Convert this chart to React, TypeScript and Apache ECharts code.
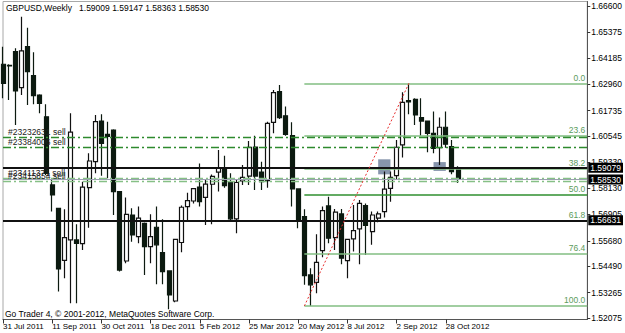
import React, { useEffect, useRef } from "react";
import * as echarts from "echarts";

const FONT = "'Liberation Sans Narrow', 'Liberation Sans', Arial, sans-serif";

// weekly OHLC (GBPUSD)
const opens = [1.6389,1.6384,1.6448,1.6280,1.6471,1.6336,1.6246,1.6145,1.5828,1.5719,1.5477,1.5572,1.5572,1.5555,1.5815,1.5936,1.6125,1.6063,1.6083,1.5797,1.5474,1.5688,1.5587,1.5649,1.5541,1.5631,1.5513,1.5428,1.5288,1.5560,1.5727,1.5753,1.5818,1.5770,1.5831,1.5887,1.5905,1.5839,1.5670,1.5846,1.5869,1.6004,1.5888,1.5848,1.6119,1.6262,1.6149,1.6057,1.5809,1.5680,1.5409,1.5375,1.5522,1.5730,1.5583,1.5693,1.5476,1.5577,1.5623,1.5732,1.5611,1.5673,1.5704,1.5812,1.5871,1.6014,1.6220,1.6226,1.6141,1.6125,1.6068,1.6001,1.6096,1.6006,1.59009];
const highs = [1.6471,1.6389,1.6463,1.6610,1.6559,1.6445,1.6249,1.6203,1.5856,1.5722,1.5715,1.6161,1.5645,1.5843,1.5975,1.6153,1.6156,1.6122,1.6087,1.5800,1.5769,1.5719,1.5727,1.5653,1.5691,1.5727,1.5668,1.5431,1.5578,1.5732,1.5792,1.5814,1.5928,1.5854,1.5876,1.5990,1.5964,1.5882,1.5851,1.5921,1.6032,1.6057,1.5936,1.6122,1.6269,1.6293,1.6192,1.6119,1.5812,1.5715,1.5440,1.5598,1.5727,1.5773,1.5716,1.5716,1.5578,1.5735,1.5758,1.5742,1.5704,1.5704,1.5890,1.5890,1.6037,1.6259,1.6300,1.6231,1.6231,1.6128,1.6169,1.6141,1.6169,1.6037,1.59147];
const lows = [1.6231,1.6223,1.6107,1.6246,1.6200,1.6203,1.6161,1.5874,1.5704,1.5332,1.5394,1.5277,1.5277,1.5525,1.5629,1.5882,1.5871,1.5859,1.5688,1.5425,1.5463,1.5564,1.5556,1.5409,1.5463,1.5366,1.5366,1.5250,1.5282,1.5515,1.5657,1.5742,1.5727,1.5642,1.5645,1.5797,1.5815,1.5665,1.5603,1.5828,1.5828,1.5804,1.5804,1.5815,1.6068,1.6135,1.6057,1.5727,1.5626,1.5363,1.5265,1.5324,1.5491,1.5556,1.5525,1.5459,1.5394,1.5518,1.5459,1.5502,1.5549,1.5654,1.5676,1.5750,1.5851,1.5955,1.6156,1.6107,1.6057,1.5980,1.5975,1.5920,1.6001,1.5877,1.58363];
const closes = [1.6300,1.6381,1.6265,1.6451,1.6355,1.6243,1.6207,1.5882,1.5781,1.5437,1.5583,1.6073,1.5556,1.5818,1.5939,1.6122,1.6021,1.6054,1.5797,1.5432,1.5691,1.5595,1.5673,1.5541,1.5587,1.5549,1.5425,1.5316,1.5575,1.5724,1.5755,1.5811,1.5750,1.5832,1.5868,1.5905,1.5825,1.5670,1.5839,1.5863,1.6003,1.5869,1.5843,1.6114,1.6257,1.6141,1.6063,1.5809,1.5665,1.5406,1.5363,1.5468,1.5708,1.5580,1.5701,1.5487,1.5575,1.5615,1.5742,1.5639,1.5688,1.5693,1.5808,1.5863,1.6003,1.6212,1.6214,1.6153,1.6125,1.6068,1.5998,1.6096,1.6017,1.5890,1.58530];

const dateLabels = ["31 Jul 2011","11 Sep 2011","30 Oct 2011","18 Dec 2011","5 Feb 2012","25 Mar 2012","20 May 2012","8 Jul 2012","2 Sep 2012","28 Oct 2012"];
const LABEL_EVERY = 8;
const SLOTS = 96; // bars + empty chart shift on the right

const priceTicks = [1.52075,1.53265,1.5449,1.5568,1.56905,1.5813,1.5933,1.60545,1.61735,1.6296,1.64185,1.65375,1.666];
const yMin = 1.520191;
const yMax = 1.668093;

const fibLevels = [0, 23.6, 38.2, 50, 61.8, 76.4, 100];
const fibHigh = 1.63005;
const fibLow = 1.52647;
const fibStartBar = 49;
const fibHighBar = 66;

const orderIds = ["#23232631 sell", "#23384006 sell", "#23411371 sell", "#23415854 sell"];
const orderPrices = [1.60493, 1.60028, 1.58586, 1.58428];
const blackLines = [1.59079, 1.56631];
const bidPrice = 1.5853;
const rects = [[61, 1.5947, 63, 1.5877], [70, 1.5934, 72, 1.5893]];

const titleText = "GBPUSD,Weekly   1.59009 1.59147 1.58363 1.58530";
const copyright = "Go Trader 4, \u00A9 2001-2012, MetaQuotes Software Corp.";

export default function App() {
  const ref = useRef<HTMLDivElement>(null);
  useEffect(() => {
    if (!ref.current) return;
    const chart = echarts.init(ref.current, null, { renderer: "svg" });
    const categories = Array.from({ length: SLOTS }, (_, i) => String(i));
    const candleData = opens.map((o, i) => [o, closes[i], lows[i], highs[i]]);
    const showIdx = (i: number) => i % LABEL_EVERY === 0 && i / LABEL_EVERY < dateLabels.length;
    const fibPrice = (lv: number) => fibHigh - (fibHigh - fibLow) * lv / 100;

    const boxLabel = (v: number) => ({
      show: true,
      position: "end",
      formatter: v.toFixed(5),
      backgroundColor: "#000",
      color: "#fff",
      fontFamily: FONT,
      fontSize: 8.5,
      padding: [1, 2, 0, 2],
      distance: 1,
    });

    chart.setOption({
      animation: false,
      backgroundColor: "#fff",
      grid: { left: 2, right: 30, top: 1.5, bottom: 13.5, show: true, borderColor: "#a8a8a8", borderWidth: 1 },
      xAxis: {
        type: "category",
        data: categories,
        boundaryGap: false,
        axisLine: { lineStyle: { color: "#555" } },
        axisTick: { show: true, interval: (i: number) => showIdx(i), length: 4, lineStyle: { color: "#333" } },
        axisLabel: {
          interval: (i: number) => showIdx(i),
          formatter: (_v: string, i: number) => (showIdx(i) ? dateLabels[i / LABEL_EVERY] : ""),
          align: "left",
          margin: 3,
          color: "#000",
          fontFamily: FONT,
          fontSize: 8,
        },
        splitLine: { show: false },
      },
      yAxis: {
        type: "value",
        position: "right",
        min: yMin,
        max: yMax,
        axisLine: { show: true, lineStyle: { color: "#555" } },
        axisTick: { show: true, customValues: priceTicks, length: 3, lineStyle: { color: "#333" } },
        axisLabel: {
          customValues: priceTicks,
          formatter: (v: number) => v.toFixed(5),
          color: "#000",
          fontFamily: FONT,
          fontSize: 8.5,
          margin: 4,
        },
        splitLine: { show: false },
      },
      graphic: [
        { type: "text", left: 6, top: 3, style: { text: titleText, fill: "#000", font: `8.5px ${FONT}` } },
        { type: "text", left: 5, top: 309, style: { text: copyright, fill: "#000", font: `8.5px ${FONT}` } },
      ],
      series: [
        {
          type: "line",
          name: "objects",
          data: [],
          z: 1,
          silent: true,
          markArea: {
            silent: true,
            itemStyle: { color: "#8795ac" },
            data: rects.map((r) => [{ coord: [r[0], r[1]] }, { coord: [r[2], r[3]] }]),
          },
          markLine: {
            silent: true,
            precision: 5,
            symbol: ["none", "none"],
            data: [
              ...fibLevels.map((lv) => [
                {
                  coord: [fibStartBar, fibPrice(lv)],
                  lineStyle: { color: lv === 50 ? "#2f8f2f" : "#82be82", width: 1.5, type: "solid" },
                  label: {
                    show: true,
                    position: "insideEndTop",
                    formatter: lv.toFixed(1),
                    color: "#5c9c5c",
                    fontFamily: FONT,
                    fontSize: 8.5,
                    distance: [2, 1],
                  },
                },
                { coord: [SLOTS - 1, fibPrice(lv)] },
              ]),
              ...orderPrices.map((p, i) => ({
                yAxis: p,
                lineStyle: { color: i < 2 ? "#2e8a2e" : "#86c086", width: 1.3, type: [8, 3, 2, 3] },
                label: {
                  show: true,
                  position: "insideStartTop",
                  formatter: orderIds[i],
                  color: "#222",
                  fontFamily: FONT,
                  fontSize: 8.5,
                  distance: [5, 1],
                },
              })),
              {
                yAxis: bidPrice,
                lineStyle: { color: "#9aa2b0", width: 1, type: "solid" },
                label: boxLabel(bidPrice),
              },
            ],
          },
        },
        {
          type: "candlestick",
          name: "GBPUSD",
          data: candleData,
          z: 2,
          barWidth: 4.5,
          itemStyle: { color: "#fff", color0: "#0c1a10", borderColor: "#111", borderColor0: "#0c1a10", borderWidth: 1.2 },
          markLine: {
            silent: true,
            precision: 5,
            symbol: ["none", "none"],
            data: [
              ...blackLines.map((p) => ({
                yAxis: p,
                lineStyle: { color: "#111", width: 2, type: "solid" },
                label: boxLabel(p),
              })),
              [
                { coord: [fibStartBar, fibLow], lineStyle: { color: "#e83030", width: 1, type: [2, 2] }, label: { show: false } },
                { coord: [fibHighBar, fibHigh] },
              ],
            ],
          },
        },
      ],
    });
    return () => chart.dispose();
  }, []);
  return <div ref={ref} style={{ position: "fixed", left: 0, top: 0, width: 625, height: 333, background: "#fff" }} />;
}
